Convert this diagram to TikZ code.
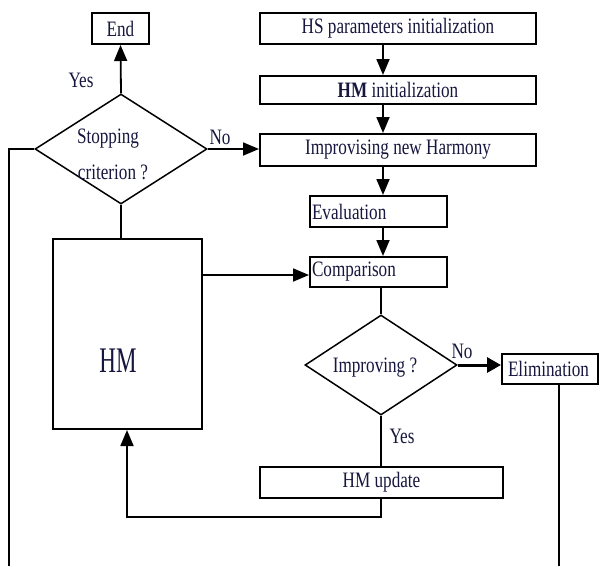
\documentclass[tikz,border=0pt]{standalone}
\usepackage{fontspec}
\setmainfont{Liberation Serif}[FakeStretch=0.78]
\newfontfamily\bigfont{Liberation Serif}[FakeStretch=0.64]
\usetikzlibrary{shapes.geometric,arrows.meta}
\definecolor{ink}{RGB}{22,22,62}
\tikzset{
  box/.style={draw, line width=2pt, inner sep=0pt, text=ink,
    font=\fontsize{22}{26}\selectfont},
  dia/.style={diamond, draw, line width=1.5pt, inner sep=0pt},
  lbl/.style={text=ink, inner sep=0pt, font=\fontsize{22}{26}\selectfont},
  link/.style={line width=1.8pt},
  arr/.style={line width=1.8pt, -{Triangle[length=16pt,width=13pt]}},
  bigarr/.style={line width=3pt, -{Triangle[length=14pt,width=15pt]}},
}
\begin{document}
\begin{tikzpicture}[x=1pt,y=-1pt]
\useasboundingbox (0,0) rectangle (606,566);

% process boxes
\node[box, minimum width=57pt, minimum height=31pt] (end) at (120.5,28.5) {End};
\node[box, minimum width=276pt, minimum height=31pt] (hs) at (398,28.5) {HS parameters initialization};
\node[box, minimum width=276pt, minimum height=28pt] (hminit) at (398,90) {\textbf{HM} initialization};
\node[box, minimum width=276pt, minimum height=32pt] (improv) at (398,150) {Improvising new Harmony};
\node[box, minimum width=137pt, minimum height=31pt, text width=133pt, align=left] (eval) at (378.5,211.5) {Evaluation};
\node[box, minimum width=137pt, minimum height=30pt, text width=133pt, align=left] (comp) at (378.5,272) {Comparison};
\node[box, minimum width=96pt, minimum height=30pt, text width=84pt, align=left] (elim) at (550,369) {Elimination};
\node[box, minimum width=243pt, minimum height=31pt] (upd) at (381.5,482.5) {HM update};
\node[box, minimum width=149pt, minimum height=190pt] (hm) at (127.5,334) {};
\node[lbl, font=\bigfont\fontsize{36}{40}\selectfont] (hmt) at (118,361) {HM};

% decisions
\node[dia, minimum width=172pt, minimum height=110pt] (stop) at (121,149) {};
\node[lbl] (stopa) at (108,139) {Stopping};
\node[lbl] (stopb) at (113,172) {criterion ?};
\node[dia, minimum width=152pt, minimum height=100pt] (impr) at (381,365) {};
\node[lbl] (imprt) at (375,368) {Improving ?};

% branch labels
\node[lbl] (yes1) at (81,80) {Yes};
\node[lbl] (no1) at (220,137) {No};
\node[lbl] (no2) at (462,351) {No};
\node[lbl] (yes2) at (402,436) {Yes};

% main column axis and loose ends
\coordinate (ax) at (383,0);
\coordinate (lb) at (9,566);
\coordinate (rb) at (559,566);
\coordinate (loop) at (127,517);

% main flow
\draw[arr] (hs.south -| ax) -- (hminit.north -| ax);
\draw[arr] (hminit.south -| ax) -- (improv.north -| ax);
\draw[arr] (improv.south -| ax) -- (eval.north -| ax);
\draw[arr] (eval.south -| ax) -- (comp.north -| ax);
\draw[link] (comp.south -| impr.north) -- (impr.north);
\draw[bigarr] (impr.east) -- (elim.west |- impr.east);
\draw[link, line width=1.4pt] (impr.south) -- (upd.north -| impr.south);
\draw[arr] (upd.south -| impr.south) -- (loop -| impr.south) -- (loop) -- (hm.south -| loop);
\draw[arr] (hm.east |- 0,275) -- (comp.west |- 0,275);

% stopping test
\draw[arr] (stop.north) -- (end.south);
\draw[arr] (stop.east) -- (improv.west |- stop.east);
\draw[link] (stop.south) -- (stop.south |- hm.north);
\draw[link] (stop.west) -- (lb |- stop.west) -- (lb);
\draw[link] (elim.south -| rb) -- (rb);
\end{tikzpicture}
\end{document}
